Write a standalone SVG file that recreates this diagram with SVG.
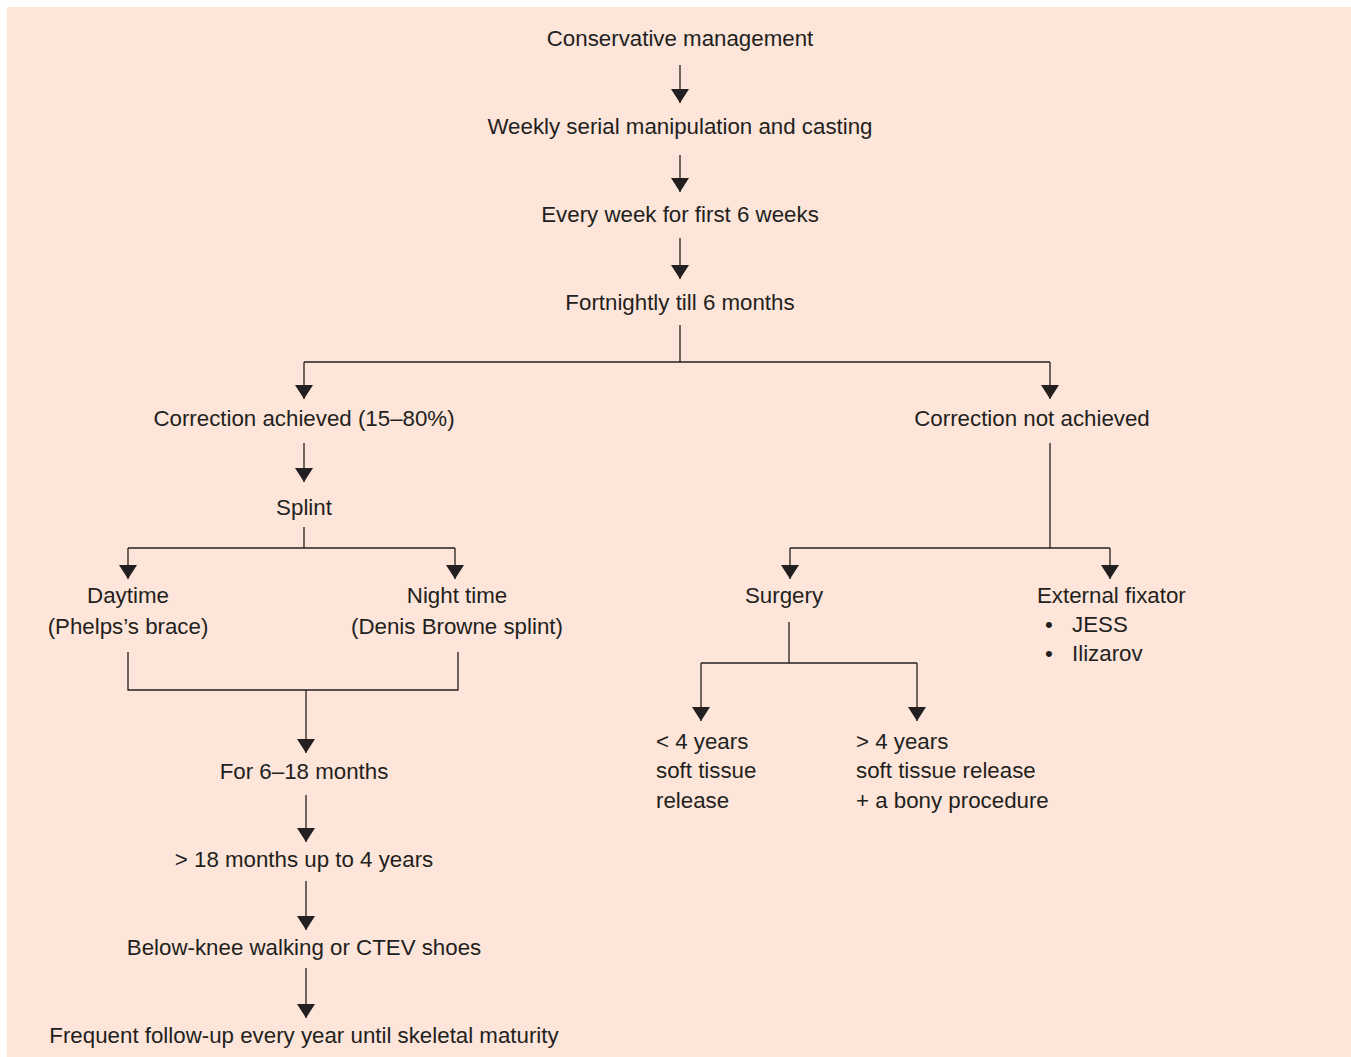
<svg xmlns="http://www.w3.org/2000/svg" width="1351" height="1057" viewBox="0 0 1351 1057">
<style>
text{font-family:"Liberation Sans",Arial,Helvetica,sans-serif;font-size:22.3px;fill:#231f20}
.m{text-anchor:middle}
.c line,.c polyline{stroke:#231f20;stroke-width:1.3;fill:none}
</style>
<defs>
<marker id="ah" viewBox="0 0 14 18" refX="14" refY="9" markerWidth="14" markerHeight="18" markerUnits="userSpaceOnUse" orient="auto">
<path d="M0,0 L14,9 L0,18 z" fill="#231f20"/>
</marker>
</defs>
<rect x="7" y="7" width="1344" height="1050" fill="#fde5da"/>
<g class="c">
<line x1="680" y1="65" x2="680" y2="103" marker-end="url(#ah)"/>
<line x1="680" y1="155" x2="680" y2="192" marker-end="url(#ah)"/>
<line x1="680" y1="238" x2="680" y2="279" marker-end="url(#ah)"/>
<polyline points="680,325 680,362"/>
<polyline points="304,362 1050,362"/>
<line x1="304" y1="362" x2="304" y2="399" marker-end="url(#ah)"/>
<line x1="1050" y1="362" x2="1050" y2="399" marker-end="url(#ah)"/>
<line x1="304" y1="443" x2="304" y2="482" marker-end="url(#ah)"/>
<polyline points="304,527 304,548"/>
<polyline points="128,548 455,548"/>
<line x1="128" y1="548" x2="128" y2="579" marker-end="url(#ah)"/>
<line x1="455" y1="548" x2="455" y2="579" marker-end="url(#ah)"/>
<polyline points="128,652 128,690 458,690 458,652"/>
<line x1="306" y1="690" x2="306" y2="753" marker-end="url(#ah)"/>
<line x1="306" y1="795" x2="306" y2="842" marker-end="url(#ah)"/>
<line x1="306" y1="881" x2="306" y2="930" marker-end="url(#ah)"/>
<line x1="306" y1="968" x2="306" y2="1018" marker-end="url(#ah)"/>
<polyline points="1050,443 1050,548"/>
<polyline points="790,548 1110,548"/>
<line x1="790" y1="548" x2="790" y2="579" marker-end="url(#ah)"/>
<line x1="1110" y1="548" x2="1110" y2="579" marker-end="url(#ah)"/>
<polyline points="789,622 789,663"/>
<polyline points="701,663 917,663"/>
<line x1="701" y1="663" x2="701" y2="721" marker-end="url(#ah)"/>
<line x1="917" y1="663" x2="917" y2="721" marker-end="url(#ah)"/>
</g>
<g id="n-conservative"><text class="m" x="680" y="46">Conservative management</text></g>
<g id="n-weekly"><text class="m" x="680" y="134">Weekly serial manipulation and casting</text></g>
<g id="n-everyweek"><text class="m" x="680" y="222">Every week for first 6 weeks</text></g>
<g id="n-fortnightly"><text class="m" x="680" y="310">Fortnightly till 6 months</text></g>
<g id="n-achieved"><text class="m" x="304" y="426">Correction achieved (15–80%)</text></g>
<g id="n-notachieved"><text class="m" x="1032" y="426">Correction not achieved</text></g>
<g id="n-splint"><text class="m" x="304" y="515">Splint</text></g>
<g id="n-daytime"><text class="m" x="128" y="603">Daytime</text><text class="m" x="128" y="634">(Phelps’s brace)</text></g>
<g id="n-nighttime"><text class="m" x="457" y="603">Night time</text><text class="m" x="457" y="634">(Denis Browne splint)</text></g>
<g id="n-6-18"><text class="m" x="304" y="779">For 6–18 months</text></g>
<g id="n-18-4"><text class="m" x="304" y="867">&gt; 18 months up to 4 years</text></g>
<g id="n-belowknee"><text class="m" x="304" y="955">Below-knee walking or CTEV shoes</text></g>
<g id="n-followup"><text class="m" x="304" y="1043">Frequent follow-up every year until skeletal maturity</text></g>
<g id="n-surgery"><text class="m" x="784" y="603">Surgery</text></g>
<g id="n-fixator"><text x="1037" y="603">External fixator</text><text x="1045" y="632">•</text><text x="1072" y="632">JESS</text><text x="1045" y="661">•</text><text x="1072" y="661">Ilizarov</text></g>
<g id="n-lt4"><text x="656" y="749">&lt; 4 years</text><text x="656" y="778">soft tissue</text><text x="656" y="808">release</text></g>
<g id="n-gt4"><text x="856" y="749">&gt; 4 years</text><text x="856" y="778">soft tissue release</text><text x="856" y="808">+ a bony procedure</text></g>
</svg>
